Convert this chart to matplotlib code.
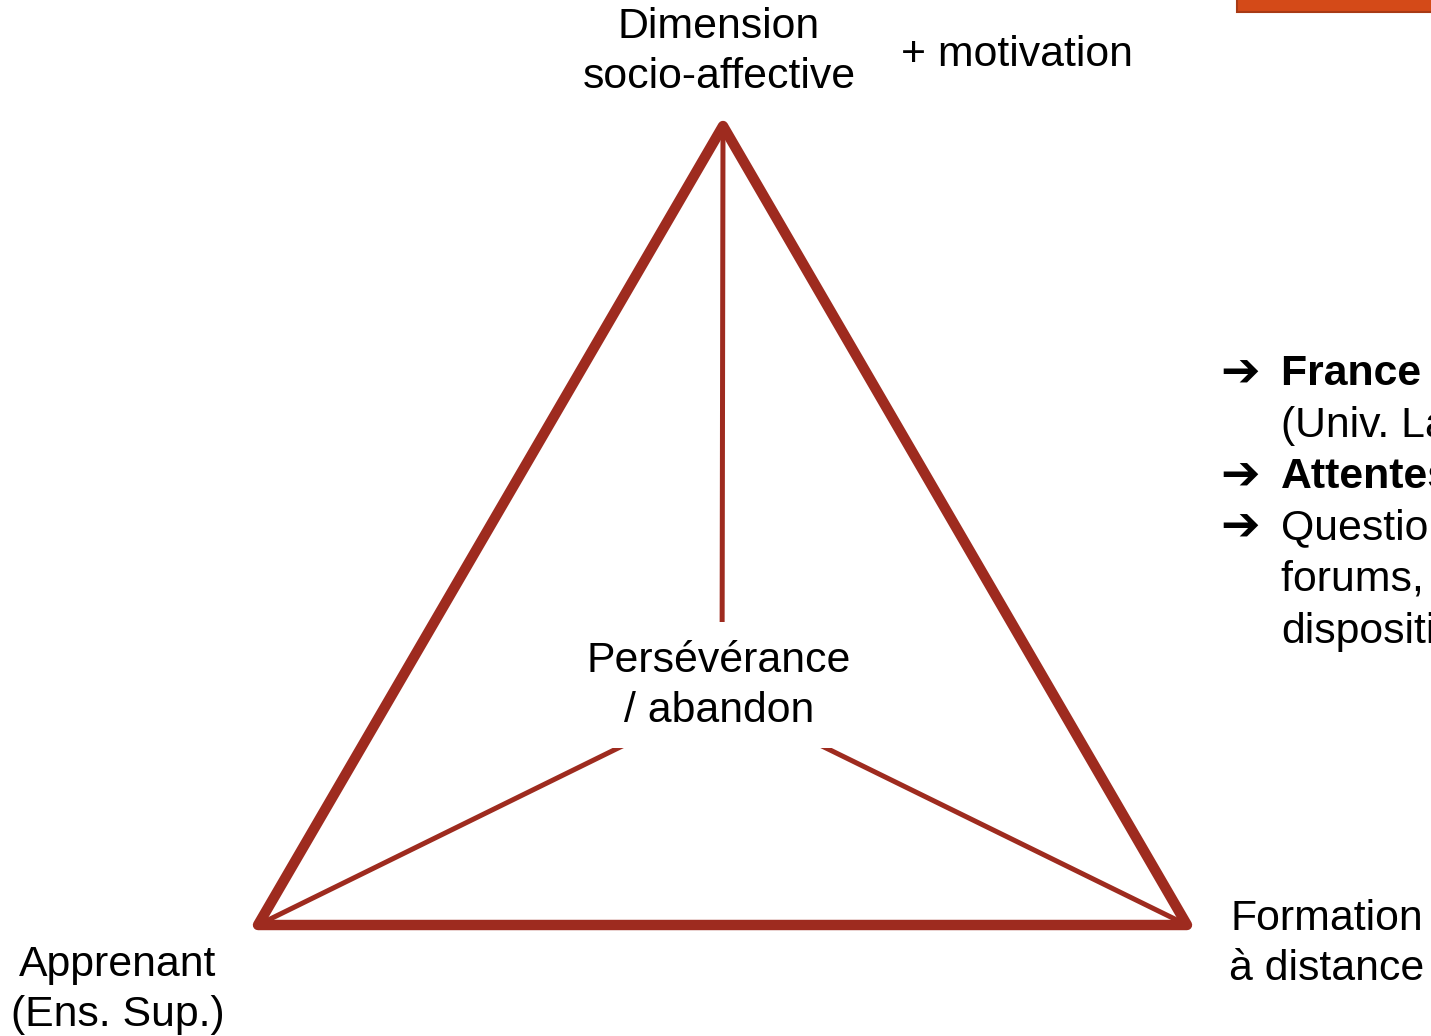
import matplotlib.pyplot as plt
from matplotlib.patches import Polygon, Rectangle

# diagram geometry in pixel coordinates of the slide (y down)
W, H = 1431, 1036
apex_x = [723, 258, 1187]
apex_y = [126, 925, 925]
center = (722, 697)

corner_labels = ["Dimension\nsocio-affective", "Apprenant\n(Ens. Sup.)", "Formation\nà distance"]
center_label = "Persévérance\n/ abandon"
extra_label = "+ motivation"

bullet_lines = [
    ("France / Canada", "bold", True),
    ("(Univ. Laval)", "normal", False),
    ("Attentes", "bold", True),
    ("Questionnaires,", "normal", True),
    ("forums, entretiens", "normal", False),
    ("dispositif", "normal", False),
]

RED = "#9e2b1f"
FONT = "Liberation Sans"
FS = 30.8
LS = 1.33

fig = plt.figure(figsize=(W / 100, H / 100), dpi=100)
ax = fig.add_axes([0, 0, 1, 1])
ax.set_xlim(0, W)
ax.set_ylim(H, 0)
ax.axis("off")

# inner spokes toward the centre
for x, y in zip(apex_x, apex_y):
    ax.plot([x, center[0]], [y, center[1]], color=RED, lw=3.6, solid_capstyle="butt", zorder=1)

# white box hiding the spokes behind the centre label
ax.add_patch(Rectangle((575, 622), 295, 126, facecolor="white", edgecolor="none", zorder=2))

tri = Polygon(list(zip(apex_x, apex_y)), closed=True, fill=False, edgecolor=RED,
              lw=7.5, joinstyle="round", zorder=3)
ax.add_patch(tri)

ax.text(719, 52, corner_labels[0], ha="center", va="center", fontsize=FS, family=FONT, linespacing=LS)
ax.text(118, 990, corner_labels[1], ha="center", va="center", fontsize=FS, family=FONT, linespacing=LS)
ax.text(1327, 944, corner_labels[2], ha="center", va="center", fontsize=FS, family=FONT, linespacing=LS)
ax.text(1017, 55, extra_label, ha="center", va="center", fontsize=FS, family=FONT)
ax.text(719, 686, center_label, ha="center", va="center", fontsize=FS, family=FONT,
        linespacing=LS, zorder=4)

# bullet list on the right (cut by the slide edge)
y0, dy = 374, 51.5
for i, (txt, weight, arrow) in enumerate(bullet_lines):
    y = y0 + i * dy
    if arrow:
        ax.text(1220, y, "\u2794", ha="left", va="center", fontsize=34, family="DejaVu Sans",
                fontweight="bold")
    ax.text(1281, y, txt, ha="left", va="center", fontsize=FS, family=FONT, fontweight=weight)

# orange banner at the top right
ax.add_patch(Rectangle((1237, -5), 200, 17, facecolor="#d44a18", edgecolor="#a83a15", lw=1.5))

fig.savefig("out.png", dpi=100)
